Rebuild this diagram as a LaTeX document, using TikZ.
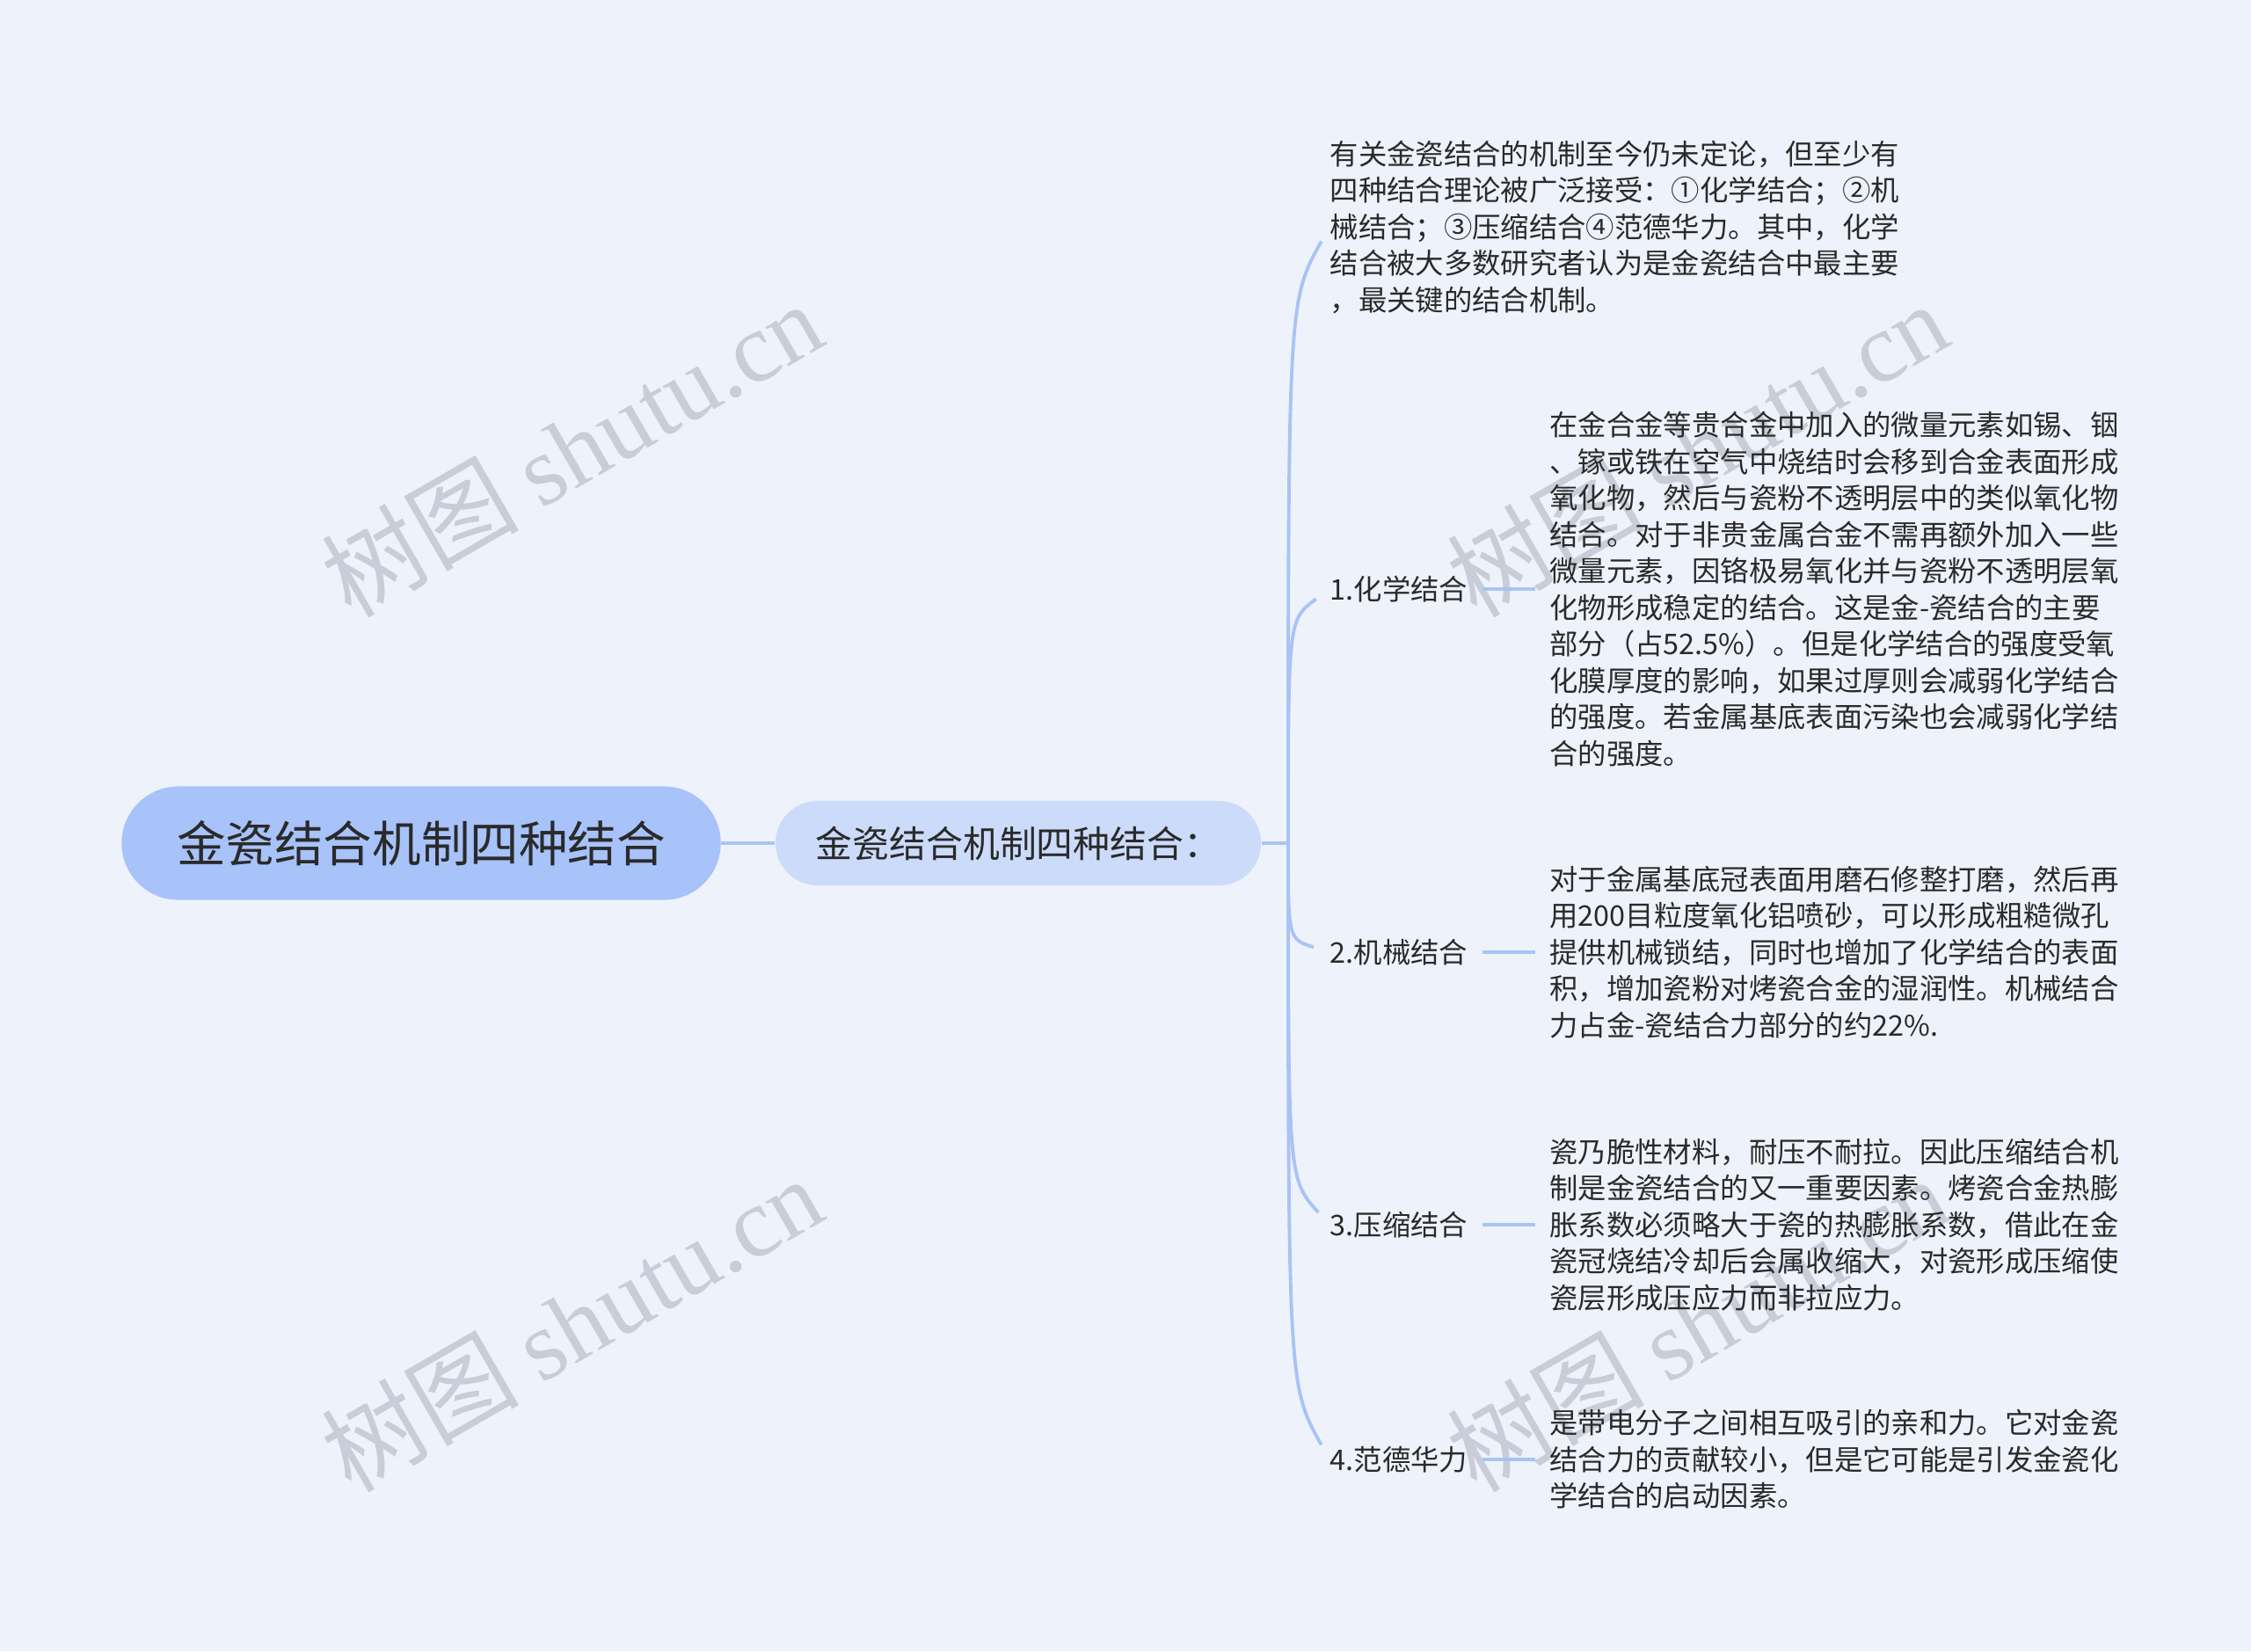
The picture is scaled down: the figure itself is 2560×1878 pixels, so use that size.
\documentclass[tikz,border=0pt]{standalone}
\usepackage{fontspec}
\usepackage{tikz}
\usetikzlibrary{positioning, calc}
\setmainfont{Noto Sans CJK SC}
\newfontfamily\wmserif{Liberation Serif}
\definecolor{cBg}{RGB}{238,242,251}
\definecolor{cRoot}{RGB}{168,194,250}
\definecolor{cSub}{RGB}{204,219,250}
\definecolor{cLink}{RGB}{170,195,245}
\definecolor{cText}{RGB}{42,42,42}
\definecolor{cMark}{RGB}{200,205,216}
\tikzset{
	rootnode/.style={rectangle, rounded corners=0.645cm, minimum width=6.81cm, minimum height=1.29cm, fill=cRoot, text=cText, font=\fontsize{15.8}{19}\selectfont},
	subnode/.style ={rectangle, rounded corners=0.48cm, minimum width=5.52cm, minimum height=0.96cm, fill=cSub, text=cText, font=\fontsize{11.9}{14}\selectfont},
	leaf/.style    ={inner sep=0pt, text=cText, font=\fontsize{9.2}{11.8}\selectfont},
	note/.style    ={leaf, align=left},
	link/.style    ={draw=cLink, line width=1.1pt},
	% faint diagonal site mark
	watermark/.style={text=cMark, rotate=30, font=\fontsize{32}{36}\selectfont},
}

\begin{document}
\begin{tikzpicture}[x=0.01cm, y=-0.01cm, node distance=0.92cm]
	\fill[cBg] (0,0) rectangle (2560,1878);
	\useasboundingbox (0,0) rectangle (2560,1878);
	\node[watermark] (wm1) at (650,510) {树图 {\wmserif shutu.cn}};
	\node[watermark] (wm2) at (1930,510) {树图 {\wmserif shutu.cn}};
	\node[watermark] (wm3) at (650,1505) {树图 {\wmserif shutu.cn}};
	\node[watermark] (wm4) at (1930,1505) {树图 {\wmserif shutu.cn}};

	\node[rootnode] (root) at (479,959) {金瓷结合机制四种结合};
	\node[subnode] (sub) at (1158,959) {金瓷结合机制四种结合：};
	\coordinate (hub) at (1465,959);
	\draw[link, line width=1.4pt] (root.east) -- (sub.west);
	\draw[link] (sub.east) -- (hub);

	\node[note, anchor=west] (n0) at (1512,258) {有关金瓷结合的机制至今仍未定论，但至少有\\
		四种结合理论被广泛接受：①化学结合；②机\\
		械结合；③压缩结合④范德华力。其中，化学\\
		结合被大多数研究者认为是金瓷结合中最主要\\
		，最关键的结合机制。};

	\node[leaf, anchor=west] (l1) at (1512,670) {1.化学结合};
	\node[note, right=of l1] (d1) {在金合金等贵合金中加入的微量元素如锡、铟\\
		、镓或铁在空气中烧结时会移到合金表面形成\\
		氧化物，然后与瓷粉不透明层中的类似氧化物\\
		结合。对于非贵金属合金不需再额外加入一些\\
		微量元素，因铬极易氧化并与瓷粉不透明层氧\\
		化物形成稳定的结合。这是金-瓷结合的主要\\
		部分（占52.5\%）。但是化学结合的强度受氧\\
		化膜厚度的影响，如果过厚则会减弱化学结合\\
		的强度。若金属基底表面污染也会减弱化学结\\
		合的强度。};

	\node[leaf, anchor=west] (l2) at (1512,1083) {2.机械结合};
	\node[note, right=of l2] (d2) {对于金属基底冠表面用磨石修整打磨，然后再\\
		用200目粒度氧化铝喷砂，可以形成粗糙微孔\\
		提供机械锁结，同时也增加了化学结合的表面\\
		积，增加瓷粉对烤瓷合金的湿润性。机械结合\\
		力占金-瓷结合力部分的约22\%.};

	\node[leaf, anchor=west] (l3) at (1512,1393) {3.压缩结合};
	\node[note, right=of l3] (d3) {瓷乃脆性材料，耐压不耐拉。因此压缩结合机\\
		制是金瓷结合的又一重要因素。烤瓷合金热膨\\
		胀系数必须略大于瓷的热膨胀系数，借此在金\\
		瓷冠烧结冷却后会属收缩大，对瓷形成压缩使\\
		瓷层形成压应力而非拉应力。};

	\node[leaf, anchor=west] (l4) at (1512,1660) {4.范德华力};
	\node[note, right=of l4] (d4) {是带电分子之间相互吸引的亲和力。它对金瓷\\
		结合力的贡献较小，但是它可能是引发金瓷化\\
		学结合的启动因素。};

	% branches from the hub
	\foreach \k in {n0,l1,l2,l3,l4}
		\draw[link, shorten >=0.19cm] (hub) .. controls ($(hub)!0.88!(hub |- \k.west)$) .. (\k.west);
	\foreach \k in {1,2,3,4}
		\draw[link, shorten <=0.16cm, shorten >=0.16cm] (l\k.east) -- (d\k.west);
\end{tikzpicture}
\end{document}
